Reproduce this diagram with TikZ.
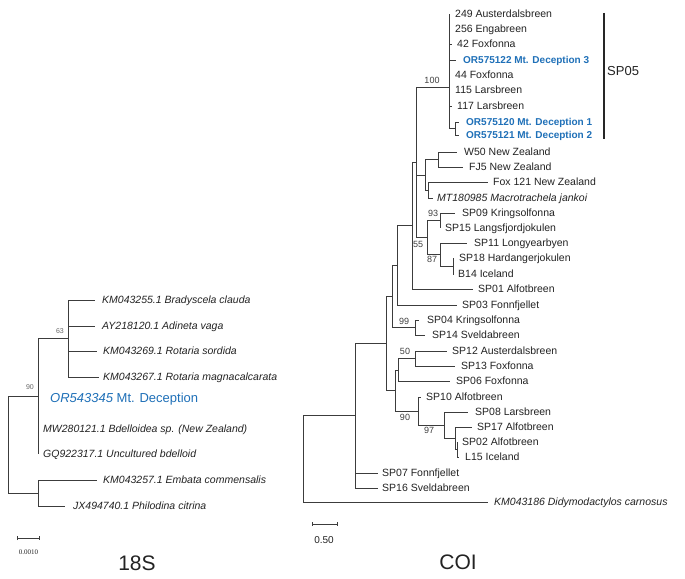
\documentclass[tikz,border=0pt]{standalone}
\usepackage{fontspec}
\setmainfont{Liberation Sans}
\newfontfamily\serifnum{Liberation Serif}
\usetikzlibrary{arrows.meta}
\definecolor{degblue}{RGB}{31,112,184}
\definecolor{branch}{RGB}{60,60,60}
\definecolor{txt}{RGB}{35,35,35}
\begin{document}
\begin{tikzpicture}[x=1pt,y=-1pt,
  br/.style={draw=branch,line width=0.8pt},
  lab/.style={anchor=west,inner ysep=0pt,inner xsep=5pt,text height=7.5pt,text depth=0pt,font=\fontsize{10.5}{12}\selectfont,text=txt},
  labi/.style={lab,font=\fontsize{10.5}{12}\selectfont\itshape},
  labb/.style={lab,text=degblue,font=\fontsize{10}{12}\selectfont\bfseries,text height=7.2pt},
  boot/.style={font=\fontsize{9}{10}\selectfont,inner sep=0pt,text=black!75},
  boots/.style={font=\fontsize{7}{8}\selectfont,inner sep=0pt,text=black!60},
  scalebar/.style={br,{Bar[width=4pt]}-{Bar[width=4pt]}},
]
\useasboundingbox[fill=white] (0,0) rectangle (685,578);

% ================= COI tree =================
\coordinate (n100) at (449,87);
\coordinate (nc) at (455,128.5);
\coordinate (nA) at (416,162);
\coordinate (nNZ) at (425,175);
\coordinate (nW) at (438,159.5);
\coordinate (nFx) at (428,190);
\coordinate (n55) at (427,237.5);
\coordinate (n93) at (440,220.5);
\coordinate (n87) at (440,254.5);
\coordinate (nB14) at (453,266);
\coordinate (nB) at (412,225.5);
\coordinate (nC) at (397,265);
\coordinate (n99) at (415,327.5);
\coordinate (nD) at (392,296);
\coordinate (n50) at (415,358.5);
\coordinate (nF) at (398,370);
\coordinate (n90) at (418,411);
\coordinate (n97) at (444,425);
\coordinate (n17) at (455,438);
\coordinate (nL) at (457,449.5);
\coordinate (nG) at (395,390.5);
\coordinate (nE) at (386,343);
\coordinate (nH) at (355,415);
\coordinate (root) at (303,458.5);

% leaves
\node[lab] (a249) at (450,14) {249 Austerdalsbreen};
\node[lab] (a256) at (450,29) {256 Engabreen};
\node[lab] (a42) at (452,44) {42 Foxfonna};
\node[labb,inner xsep=7pt] (or122) at (456,60) {OR575122 Mt. Deception 3};
\node[lab] (a44) at (450,75) {44 Foxfonna};
\node[lab] (a115) at (450,90) {115 Larsbreen};
\node[lab] (a117) at (452,106) {117 Larsbreen};
\node[labb,inner xsep=7pt] (or120) at (459,122) {OR575120 Mt. Deception 1};
\node[labb,inner xsep=7pt] (or121) at (459,135) {OR575121 Mt. Deception 2};
\node[lab,inner xsep=7pt] (w50) at (457,152) {W50 New Zealand};
\node[lab,inner xsep=6pt] (fj5) at (463,167) {FJ5 New Zealand};
\node[lab] (fox121) at (488,182) {Fox 121 New Zealand};
\node[labi,inner xsep=4pt] (mt) at (433,198) {MT180985 Macrotrachela jankoi};
\node[lab,inner xsep=7pt] (sp09) at (455,213) {SP09 Kringsolfonna};
\node[lab] (sp15) at (440,228) {SP15 Langsfjordjokulen};
\node[lab,inner xsep=7pt] (sp11) at (467,243) {SP11 Longyearbyen};
\node[lab] (sp18) at (454,258) {SP18 Hardangerjokulen};
\node[lab,inner xsep=4pt] (b14) at (454,274) {B14 Iceland};
\node[lab] (sp01) at (473,289) {SP01 Alfotbreen};
\node[lab] (sp03) at (457,305) {SP03 Fonnfjellet};
\node[lab,inner xsep=8pt] (sp04) at (419,320) {SP04 Kringsolfonna};
\node[lab,inner xsep=7pt] (sp14) at (425,335) {SP14 Sveldabreen};
\node[lab] (sp12) at (447,351) {SP12 Austerdalsbreen};
\node[lab,inner xsep=6pt] (sp13) at (455,366) {SP13 Foxfonna};
\node[lab,inner xsep=6pt] (sp06) at (450,381) {SP06 Foxfonna};
\node[lab] (sp10) at (421,397) {SP10 Alfotbreen};
\node[lab,inner xsep=7pt] (sp08) at (468,412) {SP08 Larsbreen};
\node[lab] (sp17) at (472,427) {SP17 Alfotbreen};
\node[lab] (sp02) at (457,442) {SP02 Alfotbreen};
\node[lab,inner xsep=6pt] (l15) at (459,457) {L15 Iceland};
\node[lab,inner xsep=4pt] (sp07) at (378,473) {SP07 Fonnfjellet};
\node[lab,inner xsep=4pt] (sp16) at (378,488) {SP16 Sveldabreen};
\node[labi,inner xsep=6pt] (km186) at (488,502) {KM043186 Didymodactylos carnosus};

% branches
\foreach \c in {a249,a256,a42,or122,a44,a115,a117} \draw[br] (n100) |- (\c.west);
\draw[br] (n100) |- (nc);
\draw[br] (nc) |- (or120.west);
\draw[br] (nc) |- (or121.west);
\draw[br] (nA) |- (n100);
\draw[br] (nA) |- (nNZ);
\draw[br] (nA) |- (n55);
\draw[br] (nNZ) |- (nW);
\draw[br] (nNZ) |- (nFx);
\draw[br] (nW) |- (w50.west);
\draw[br] (nW) |- (fj5.west);
\draw[br] (nFx) |- (fox121.west);
\draw[br] (nFx) |- (mt.west);
\draw[br] (n55) |- (n93);
\draw[br] (n55) |- (n87);
\draw[br] (n93) |- (sp09.west);
\draw[br] (n93) |- (sp15.west);
\draw[br] (n87) |- (sp11.west);
\draw[br] (n87) |- (nB14);
\draw[br] (nB14) |- (sp18.west);
\draw[br] (nB14) |- (b14.west);
\draw[br] (nB) |- (nA);
\draw[br] (nB) |- (sp01.west);
\draw[br] (nC) |- (nB);
\draw[br] (nC) |- (sp03.west);
\draw[br] (nD) |- (nC);
\draw[br] (nD) |- (n99);
\draw[br] (n99) |- (sp04.west);
\draw[br] (n99) |- (sp14.west);
\draw[br] (n50) |- (sp12.west);
\draw[br] (n50) |- (sp13.west);
\draw[br] (nF) |- (n50);
\draw[br] (nF) |- (sp06.west);
\draw[br] (n90) |- (sp10.west);
\draw[br] (n90) |- (n97);
\draw[br] (n97) |- (sp08.west);
\draw[br] (n97) |- (n17);
\draw[br] (n17) |- (sp17.west);
\draw[br] (n17) |- (nL);
\draw[br] (nL) |- (sp02.west);
\draw[br] (nL) |- (l15.west);
\draw[br] (nG) |- (nF);
\draw[br] (nG) |- (n90);
\draw[br] (nE) |- (nD);
\draw[br] (nE) |- (nG);
\draw[br] (nH) |- (nE);
\draw[br] (nH) |- (sp07.west);
\draw[br] (nH) |- (sp16.west);
\draw[br] (root) |- (nH);
\draw[br] (root) |- (km186.west);

% bootstrap values
\node[boot] (bs100) at (432,80) {100};
\node[boot] (bs93) at (433,213) {93};
\node[boot] (bs55) at (418,244) {55};
\node[boot] (bs87) at (432,259) {87};
\node[boot] (bs99) at (404,321) {99};
\node[boot] (bs50) at (405,351) {50};
\node[boot] (bs90) at (405,417) {90};
\node[boot] (bs97) at (429,430) {97};

% SP05 bar
\coordinate (spt) at (604,13);
\coordinate (spb) at (604,139);
\draw[line width=2pt,black!85] (spt) -- (spb);
\node[anchor=west,inner sep=0pt,font=\fontsize{13}{14}\selectfont,text=txt] (sp05) at (607,71) {SP05};

% scale bar COI
\coordinate (sc2a) at (312,524);
\coordinate (sc2b) at (338,524);
\draw[scalebar] (sc2a) -- (sc2b);
\node[font=\fontsize{10}{11}\selectfont,text=txt,inner sep=0pt] (scl2) at (324,540) {0.50};
\node[font=\fontsize{21}{24}\selectfont,text=txt,inner sep=0pt] (tcoi) at (458,562) {COI};

% ================= 18S tree =================
\coordinate (r18) at (8,444.5);
\coordinate (m90) at (38,396);
\coordinate (m63) at (68,338.5);
\coordinate (mEm) at (38,493);

\node[labi,inner xsep=7pt] (b255) at (95,300) {KM043255.1 Bradyscela clauda};
\node[labi,inner xsep=7pt] (ay) at (95,326) {AY218120.1 Adineta vaga};
\node[labi,inner xsep=6pt] (b269) at (97,351) {KM043269.1 Rotaria sordida};
\node[labi,inner xsep=4pt] (b267) at (99,377) {KM043267.1 Rotaria magnacalcarata};
\node[lab,inner xsep=12pt,text=degblue,font=\fontsize{13}{15}\selectfont,text height=9.3pt] (or345) at (38,398) {\textit{OR543345} Mt. Deception};
\node[labi] (mw) at (38,429) {MW280121.1 Bdelloidea sp. (New Zealand)};
\node[labi] (gq) at (38,454) {GQ922317.1 Uncultured bdelloid};
\node[labi,inner xsep=6pt] (km257) at (97,480) {KM043257.1 Embata commensalis};
\node[labi,inner xsep=8pt] (jx) at (65,506) {JX494740.1 Philodina citrina};

\draw[br] (r18) |- (m90);
\draw[br] (r18) |- (mEm);
\draw[br] (m90) |- (m63);
\draw[br] (m90) |- (or345.west);
\draw[br] (m90) |- (mw.west);
\draw[br] (m90) |- (gq.west);
\foreach \c in {b255,ay,b269,b267} \draw[br] (m63) |- (\c.west);
\draw[br] (mEm) |- (km257.west);
\draw[br] (mEm) |- (jx.west);

\node[boots] (bs63) at (60,331) {63};
\node[boots] (bs90s) at (30,387) {90};

\coordinate (sc1a) at (17,538);
\coordinate (sc1b) at (40,538);
\draw[scalebar] (sc1a) -- (sc1b);
\node[font=\serifnum\fontsize{7}{8}\selectfont,text=txt,inner sep=0pt] (scl1) at (28.5,552) {0.0010};
\node[font=\fontsize{21}{24}\selectfont,text=txt,inner sep=0pt] (t18) at (137,563) {18S};
\end{tikzpicture}
\end{document}
